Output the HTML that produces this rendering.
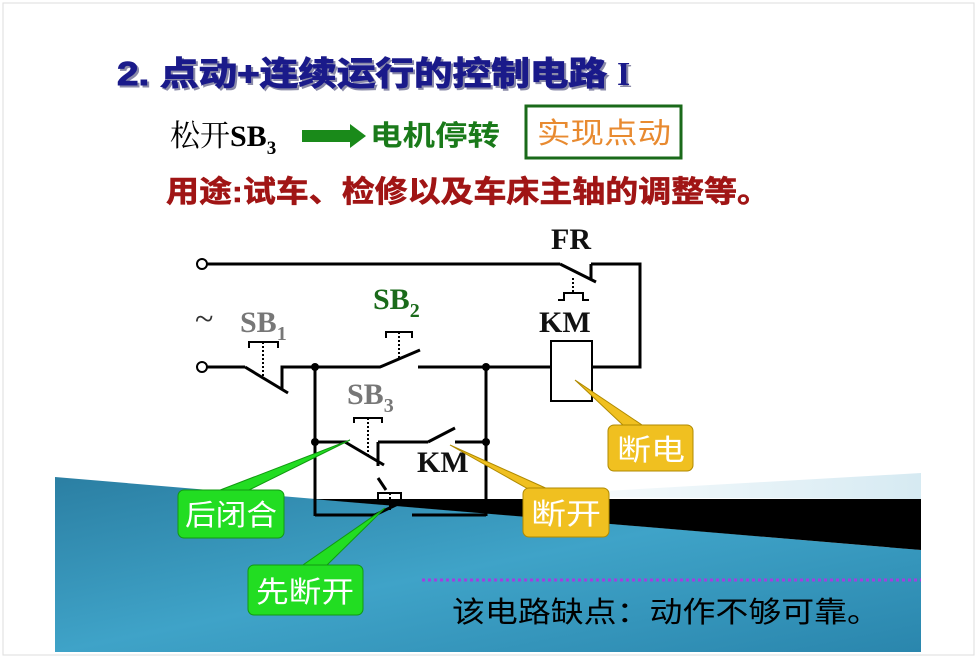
<!DOCTYPE html>
<html><head><meta charset="utf-8"><style>
html,body{margin:0;padding:0;background:#fff;}
svg{display:block;}
text{font-family:"Liberation Sans","Noto Sans CJK SC",sans-serif;}
.s{font-family:"Liberation Serif","Noto Serif CJK SC",serif;font-weight:bold;}
</style></head><body>
<svg width="977" height="660" viewBox="0 0 977 660" xmlns="http://www.w3.org/2000/svg">
<defs>
<linearGradient id="bl" x1="0" y1="0" x2="1" y2="1">
<stop offset="0" stop-color="#2b7fa3"/><stop offset="0.5" stop-color="#3fa3c8"/><stop offset="1" stop-color="#2a86ad"/>
</linearGradient>
<linearGradient id="lb" x1="0" y1="0" x2="1" y2="0">
<stop offset="0" stop-color="#ffffff"/><stop offset="1" stop-color="#d6eaf2"/>
</linearGradient>
</defs>
<rect x="0" y="0" width="977" height="660" fill="#fff"/>
<rect x="3" y="3" width="971" height="652" fill="none" stroke="#ddd" stroke-width="1"/>
<polygon points="55,477 921,550 921,652 55,652" fill="url(#bl)"/>
<polygon points="500,497 921,473 921,499" fill="url(#lb)"/>
<polygon points="312,499 921,499 921,550" fill="#000"/>
<!-- title -->
<text x="117" y="85" font-size="33" font-weight="bold" fill="#8a8aa8" textLength="490" lengthAdjust="spacingAndGlyphs" transform="translate(2,2)" stroke="#8a8aa8" stroke-width="1">2. 点动+连续运行的控制电路</text>
<text x="117" y="85" font-size="33" font-weight="bold" fill="#1a1a8a" textLength="490" lengthAdjust="spacingAndGlyphs" stroke="#1a1a8a" stroke-width="1">2. 点动+连续运行的控制电路</text>
<text x="619" y="87" font-size="34" class="s" fill="#8a8aa8">I</text>
<text x="617" y="85" font-size="34" class="s" fill="#1a1a8a">I</text>
<!-- line 2 -->
<text x="170" y="146" font-size="30" fill="#000" class="s" style="font-weight:normal">松开<tspan font-weight="bold">SB</tspan><tspan font-size="19" dy="8" font-weight="bold">3</tspan></text>
<polygon points="302,130 350,130 350,124 366,136 350,148 350,142 302,142" fill="#1a8a1a"/>
<text x="370" y="145" font-size="28" font-weight="bold" fill="#1a7a1a" textLength="130" lengthAdjust="spacingAndGlyphs">电机停转</text>
<rect x="526" y="106" width="155" height="52" fill="none" stroke="#1a6a1a" stroke-width="3"/>
<text x="537" y="143" font-size="29" fill="#e88a30" textLength="134" lengthAdjust="spacingAndGlyphs">实现点动</text>
<!-- line 3 -->
<text x="166" y="202" font-size="30" font-weight="bold" fill="#a01515" textLength="604" lengthAdjust="spacingAndGlyphs" stroke="#a01515" stroke-width="0.6">用途:试车、检修以及车床主轴的调整等。</text>
<!-- circuit -->
<g stroke="#000" stroke-width="3" fill="none">
<circle cx="202" cy="264" r="5" stroke-width="2" fill="#fff"/>
<circle cx="202" cy="367" r="5" stroke-width="2" fill="#fff"/>
<line x1="207" y1="264" x2="560" y2="264"/>
<line x1="560" y1="264" x2="596" y2="282"/>
<line x1="591" y1="264" x2="591" y2="280"/>
<polyline points="591,264 640,264 640,367 592,367"/>
<line x1="207" y1="367" x2="245" y2="367"/>
<line x1="245" y1="367" x2="288" y2="393"/>
<polyline points="282,390 282,367 380,367 420,350"/>
<line x1="418" y1="367" x2="551" y2="367"/>
<rect x="551" y="341" width="41" height="60" stroke-width="2"/>
<line x1="315" y1="367" x2="315" y2="516"/>
<line x1="486" y1="367" x2="486" y2="516"/>
<line x1="315" y1="442" x2="347" y2="442"/>
<line x1="345" y1="442" x2="384" y2="465"/>
<line x1="378" y1="442" x2="378" y2="466"/>
<line x1="378" y1="442" x2="428" y2="442"/>
<line x1="428" y1="442" x2="455" y2="428"/>
<line x1="455" y1="442" x2="486" y2="442"/>
<line x1="315" y1="515" x2="375" y2="515"/>
<line x1="375" y1="515" x2="400" y2="503"/>
<line x1="412" y1="515" x2="486" y2="515"/>
<line x1="378" y1="478" x2="386" y2="490"/>
</g>
<g stroke="#000" stroke-width="2" fill="none">
<polyline points="249,348 249,342 278,342 278,348"/>
<line x1="263" y1="342" x2="263" y2="378" stroke-dasharray="2,2"/>
<polyline points="386,338 386,332 412,332 412,338"/>
<line x1="399" y1="332" x2="399" y2="358" stroke-dasharray="2,2"/>
<polyline points="354,423 354,418 382,418 382,423"/>
<line x1="368" y1="418" x2="368" y2="458" stroke-dasharray="2,2"/>
<polyline points="378,500 378,493 401,493 401,500"/>
<line x1="390" y1="493" x2="390" y2="510" stroke-dasharray="2,2"/>
<line x1="573" y1="278" x2="573" y2="293" stroke-dasharray="2,2"/>
<polyline points="558,300 564,300 564,293 583,293 583,300 589,300"/>
</g>
<g fill="#000"><circle cx="315" cy="367" r="4"/><circle cx="486" cy="367" r="4"/><circle cx="315" cy="442" r="4"/><circle cx="486" cy="442" r="4"/></g>
<text x="195" y="330" font-size="34" fill="#333" class="s" style="font-weight:normal">~</text>
<text x="240" y="332" font-size="30" class="s" fill="#777">SB<tspan font-size="20" dy="8">1</tspan></text>
<text x="373" y="309" font-size="30" class="s" fill="#1a6a1a">SB<tspan font-size="20" dy="8">2</tspan></text>
<text x="347" y="404" font-size="30" class="s" fill="#777">SB<tspan font-size="20" dy="8">3</tspan></text>
<text x="551" y="249" font-size="30" class="s" fill="#111">FR</text>
<text x="539" y="332" font-size="30" class="s" fill="#111">KM</text>
<text x="417" y="472" font-size="30" class="s" fill="#111">KM</text>
<!-- callouts -->
<polygon points="575,380 625,427 645,427" fill="#f0c020" stroke="#b08a00" stroke-width="1"/>
<rect x="608" y="425" width="85" height="46" rx="6" fill="#f0c020" stroke="#b08a00"/>
<text x="617" y="460" font-size="29" fill="#fff" textLength="68" lengthAdjust="spacingAndGlyphs">断电</text>
<polygon points="350,440 215,492 245,492" fill="#22dd22" stroke="#119911" stroke-width="1"/>
<rect x="178" y="490" width="106" height="48" rx="6" fill="#22dd22" stroke="#119911"/>
<text x="185" y="525" font-size="29" fill="#fff" textLength="92" lengthAdjust="spacingAndGlyphs">后闭合</text>
<polygon points="450,445 530,490 550,490" fill="#f0c020" stroke="#b08a00" stroke-width="1"/>
<rect x="523" y="488" width="86" height="49" rx="6" fill="#f0c020" stroke="#b08a00"/>
<text x="531" y="524" font-size="29" fill="#fff" textLength="70" lengthAdjust="spacingAndGlyphs">断开</text>
<polygon points="385,508 300,567 325,567" fill="#22dd22" stroke="#119911" stroke-width="1"/>
<rect x="248" y="565" width="115" height="50" rx="6" fill="#22dd22" stroke="#119911"/>
<text x="256" y="602" font-size="29" fill="#fff" textLength="98" lengthAdjust="spacingAndGlyphs">先断开</text>
<line x1="422" y1="580" x2="921" y2="580" stroke="#a040e0" stroke-width="3" stroke-dasharray="3,3"/>
<text x="452" y="622" font-size="29" fill="#000" textLength="428" lengthAdjust="spacingAndGlyphs">该电路缺点：动作不够可靠。</text>
</svg>
</body></html>
